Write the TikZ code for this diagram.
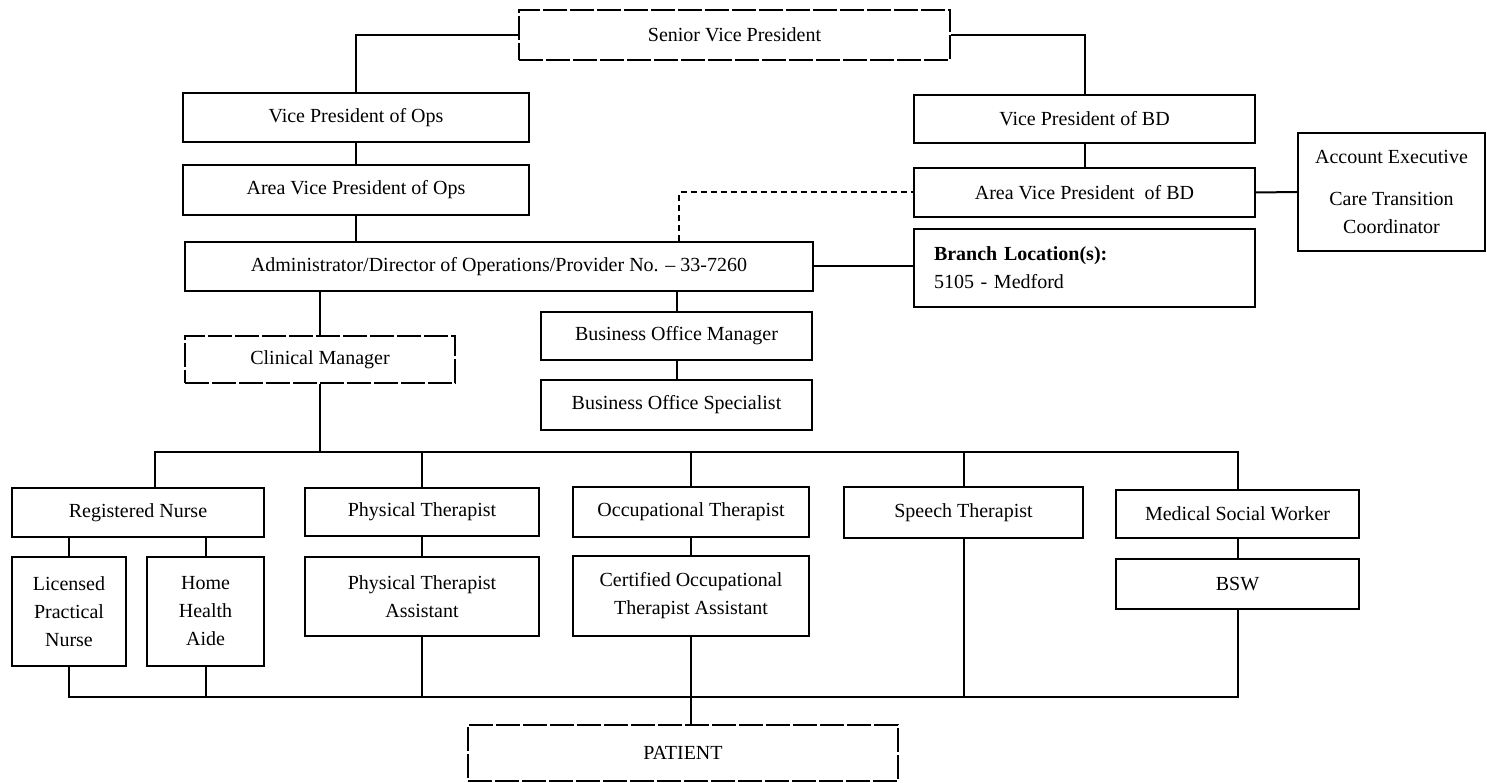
\documentclass[tikz,border=0pt]{standalone}
\usepackage{fontspec}
\setmainfont{Liberation Serif}
\newcommand{\orgfont}{\fontsize{20}{28}\selectfont}

\tikzset{
    orgbox/.style={draw, line width=2.4pt, inner sep=2pt, align=center, font=\orgfont},
    scanbox/.style={orgbox, dash pattern=on 24pt off 3pt},
    link/.style={line width=2pt},
}

\begin{document}
\begin{tikzpicture}[x=1pt, y=-1pt]
    \path[use as bounding box] (0,0) rectangle (1487,783);

    \node[scanbox, minimum width=431pt, minimum height=50pt] (svp)    at (734.5,35)  {Senior Vice President};
    \node[orgbox,  minimum width=346pt, minimum height=49pt] (vpops)  at (356,117.5) {Vice President of Ops};
    \node[orgbox,  minimum width=341pt, minimum height=48pt] (vpbd)   at (1084.5,119) {Vice President of BD};
    \node[orgbox,  minimum width=346pt, minimum height=50pt] (avpops) at (356,190)   {Area Vice President of Ops};
    \node[orgbox,  minimum width=341pt, minimum height=49pt] (avpbd)  at (1084.5,192.5) {Area Vice President~ of BD};
    \node[orgbox,  minimum width=187pt, minimum height=118pt] (ae)    at (1391.5,192) {Account Executive\\[14pt]Care Transition\\Coordinator};
    \node[orgbox,  minimum width=628pt, minimum height=49pt] (admin)  at (499,266.5) {Administrator/Director of Operations/Provider No. -- 33-7260};
    \node[orgbox,  text width=301pt, inner xsep=20pt, minimum height=78pt, align=left] (branch) at (1084.5,268)
        {\textbf{Branch Location(s):}\\5105 - Medford};
    \node[orgbox,  minimum width=271pt, minimum height=48pt] (bom)    at (676.5,336) {Business Office Manager};
    \node[orgbox,  minimum width=271pt, minimum height=50pt] (bos)    at (676.5,405) {Business Office Specialist};
    \node[scanbox, minimum width=270pt, minimum height=47pt] (cm)     at (320,359.5) {Clinical Manager};

    \node[orgbox,  minimum width=252pt, minimum height=49pt] (rn)     at (138,512.5)  {Registered Nurse};
    \node[orgbox,  minimum width=114pt, minimum height=109pt] (lpn)   at (69,611.5)   {Licensed\\Practical\\Nurse};
    \node[orgbox,  minimum width=117pt, minimum height=109pt] (hha)   at (205.5,611.5) {Home\\Health\\Aide};
    \node[orgbox,  minimum width=234pt, minimum height=48pt] (pt)     at (422,512)    {Physical Therapist};
    \node[orgbox,  minimum width=234pt, minimum height=79pt] (pta)    at (422,596.5)  {Physical Therapist\\Assistant};
    \node[orgbox,  minimum width=236pt, minimum height=50pt] (ot)     at (691,512)    {Occupational Therapist};
    \node[orgbox,  minimum width=236pt, minimum height=80pt] (cota)   at (691,596)    {Certified Occupational\\Therapist Assistant};
    \node[orgbox,  minimum width=239pt, minimum height=51pt] (st)     at (963.5,512.5) {Speech Therapist};
    \node[orgbox,  minimum width=243pt, minimum height=48pt] (msw)    at (1237.5,514) {Medical Social Worker};
    \node[orgbox,  minimum width=243pt, minimum height=50pt] (bsw)    at (1237.5,584) {BSW};
    \node[scanbox, minimum width=430pt, minimum height=56pt] (patient) at (683,753)  {PATIENT};

    \coordinate (topbus) at (0,452);
    \coordinate (botbus) at (0,697);

    % upper tree
    \draw[link] (svp.west) -| (vpops.north);
    \draw[link] (svp.east) -| (vpbd.north);
    \draw[link] (vpops.south) -- (avpops.north);
    \draw[link] (vpbd.south) -- (avpbd.north);
    \draw[link] (avpops.south) -- (avpops.south |- admin.north);
    \draw[link, dash pattern=on 6pt off 4pt] ([xshift=180pt]admin.north) |- (avpbd.west);
    \draw[link] (avpbd.east) -- (ae.west);
    \draw[link] (admin.east) -- (admin.east -| branch.west);
    \draw[link] (bom.north) -- (bom.north |- admin.south);
    \draw[link] (bom.south) -- (bos.north);
    \draw[link] (cm.north) -- (cm.north |- admin.south);
    \draw[link] (cm.south) -- (cm.south |- topbus);

    % disciplines
    \draw[link] ([xshift=17pt]rn.north) |- (topbus -| msw) -- (msw.north);
    \foreach \n in {pt, ot, st}
        \draw[link] (\n.north) -- (\n.north |- topbus);
    \draw[link] (lpn.north) -- (lpn.north |- rn.south);
    \draw[link] (hha.north) -- (hha.north |- rn.south);
    \draw[link] (pt.south) -- (pta.north);
    \draw[link] (ot.south) -- (cota.north);
    \draw[link] (msw.south) -- (bsw.north);

    % down to the patient
    \draw[link] (lpn.south) |- (botbus -| bsw) -- (bsw.south);
    \foreach \n in {hha, pta, cota, st}
        \draw[link] (\n.south) -- (\n.south |- botbus);
    \draw[link] (cota.south |- botbus) -- (cota.south |- patient.north);
\end{tikzpicture}
\end{document}
